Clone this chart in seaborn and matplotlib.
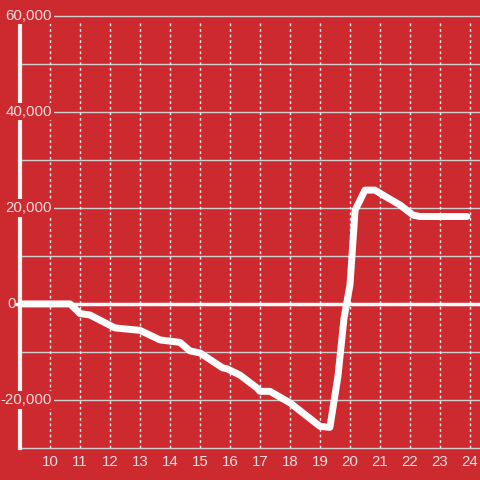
import matplotlib
matplotlib.use("Agg")
import matplotlib.pyplot as plt
import matplotlib.transforms as mtransforms
import seaborn as sns

# --------------------------------------------------
# Data
# --------------------------------------------------

hours = [9.0, 10.67, 11.0, 11.33, 12.17, 13.0, 13.67, 14.33, 14.67, 15.0,
         15.75, 15.9, 16.33, 16.9, 17.0, 17.33, 18.0, 19.0, 19.33, 19.6,
         19.8, 20.0, 20.17, 20.5, 20.83, 21.2, 21.67, 22.1, 22.33, 23.9]
values = [0, 0, -2000, -2300, -5000, -5500, -7500, -8000, -9800, -10200,
          -13300, -13500, -14800, -17500, -18200, -18200, -20600, -25500, -25700, -15000,
          -3000, 4000, 19500, 23700, 23700, 22300, 20600, 18500, 18200, 18200]

x_ticks = list(range(10, 25))
y_labels = {60000: "60,000", 40000: "40,000", 20000: "20,000", -20000: "-20,000"}
y_grid = [-30000, -20000, -10000, 10000, 20000, 30000, 40000, 50000]

bg = "#cd2a2f"
txt = "#f3dede"

# --------------------------------------------------
# Figure
# --------------------------------------------------

sns.set_style("white", rc={"axes.facecolor": bg, "figure.facecolor": bg})
plt.rcParams["font.family"] = ["Liberation Sans", "DejaVu Sans"]

fig = plt.figure(figsize=(4.8, 4.8), dpi=100)
ax = fig.add_axes([20 / 480, 1 - 448 / 480, 460 / 480, (448 - 23) / 480])

sns.lineplot(x=hours, y=values, ax=ax, color="white", linewidth=5,
             solid_joinstyle="round", zorder=4)

ax.set_xlim(9, 9 + 460 / 30)
ax.set_ylim(-30000, 58500)

# grid
for v in y_grid:
    ax.axhline(v, color="#cfcfcf", linewidth=1, zorder=1, clip_on=False)
for h in x_ticks:
    ax.axvline(h, color="#eeeeee", linewidth=1, linestyle=(0, (2, 2)), zorder=1)

blend = mtransforms.blended_transform_factory(ax.transAxes, ax.transData)

# top 60,000 line sits just above the axes
ax.plot([0, 1], [60000, 60000], transform=blend, color="#cfcfcf",
        linewidth=1, clip_on=False, zorder=1)

# thick zero line
ax.plot([-0.008, 1], [0, 0], transform=blend, color="white",
        linewidth=2.5, clip_on=False, zorder=3)

# spines
for s in ["top", "right", "bottom"]:
    ax.spines[s].set_visible(False)
ax.spines["left"].set_color("#f3f3f3")
ax.spines["left"].set_linewidth(3)

# y labels with red boxes over the axis
for v, lab in y_labels.items():
    ax.text(32 / 460, v, lab, transform=blend, ha="right", va="center",
            fontsize=10.8, color=txt, zorder=6, clip_on=False,
            bbox=dict(facecolor=bg, edgecolor="none", pad=1.2))
ax.text(-4 / 460, 0, "0", transform=blend, ha="right", va="center",
        fontsize=10.8, color=txt, zorder=6, clip_on=False)

ax.set_yticks([])
ax.set_xticks(x_ticks)
ax.set_xticklabels([str(h) for h in x_ticks])
ax.tick_params(axis="x", length=0, pad=5, labelsize=10.8, labelcolor=txt)
ax.set_xlabel("")
ax.set_ylabel("")

plt.savefig("out.png", dpi=100, facecolor=bg)
